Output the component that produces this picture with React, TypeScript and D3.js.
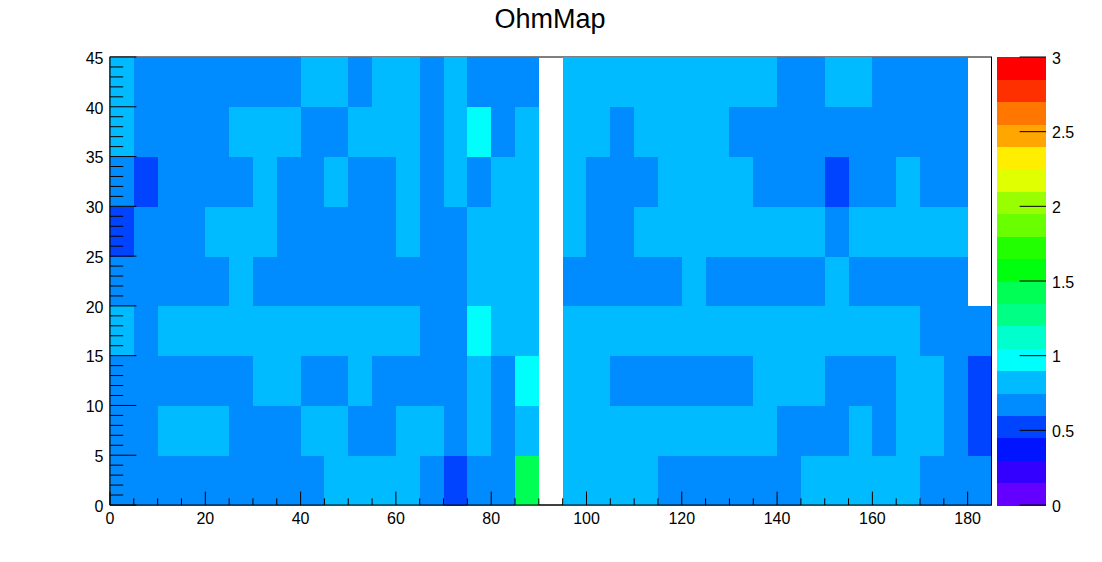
import React from "react";
import * as d3 from "d3";

// ---------- data ----------
const TITLE = "OhmMap";
const X_RANGE = [0, 185];
const Y_RANGE = [0, 45];
const BIN_W = 5;
const BIN_H = 5;
const Z_RANGE = [0, 3];
const N_CONTOURS = 20;

const xTickLabels = [0, 20, 40, 60, 80, 100, 120, 140, 160, 180];
const yTickLabels = [0, 5, 10, 15, 20, 25, 30, 35, 40, 45];
const zTickLabels = [0, 0.5, 1, 1.5, 2, 2.5, 3];

// bin contents, one array per y-bin (y 0-5 ... 40-45), 37 x-bins each; 0 = empty bin
const rowY0 = [0.68, 0.68, 0.68, 0.68, 0.68, 0.68, 0.68, 0.68, 0.68, 0.83, 0.83, 0.83, 0.83, 0.68, 0.52, 0.68, 0.68, 1.42, 0, 0.83, 0.83, 0.83, 0.83, 0.68, 0.68, 0.68, 0.68, 0.68, 0.68, 0.83, 0.83, 0.83, 0.83, 0.83, 0.68, 0.68, 0.68];
const rowY5 = [0.68, 0.68, 0.83, 0.83, 0.83, 0.68, 0.68, 0.68, 0.83, 0.83, 0.68, 0.68, 0.83, 0.83, 0.68, 0.83, 0.68, 0.83, 0, 0.83, 0.83, 0.83, 0.83, 0.83, 0.83, 0.83, 0.83, 0.83, 0.68, 0.68, 0.68, 0.83, 0.68, 0.83, 0.83, 0.68, 0.52];
const rowY10 = [0.68, 0.68, 0.68, 0.68, 0.68, 0.68, 0.83, 0.83, 0.68, 0.68, 0.83, 0.68, 0.68, 0.68, 0.68, 0.83, 0.68, 0.98, 0, 0.83, 0.83, 0.68, 0.68, 0.68, 0.68, 0.68, 0.68, 0.83, 0.83, 0.83, 0.68, 0.68, 0.68, 0.83, 0.83, 0.68, 0.52];
const rowY15 = [0.83, 0.68, 0.83, 0.83, 0.83, 0.83, 0.83, 0.83, 0.83, 0.83, 0.83, 0.83, 0.83, 0.68, 0.68, 0.98, 0.83, 0.83, 0, 0.83, 0.83, 0.83, 0.83, 0.83, 0.83, 0.83, 0.83, 0.83, 0.83, 0.83, 0.83, 0.83, 0.83, 0.83, 0.68, 0.68, 0.68];
const rowY20 = [0.68, 0.68, 0.68, 0.68, 0.68, 0.83, 0.68, 0.68, 0.68, 0.68, 0.68, 0.68, 0.68, 0.68, 0.68, 0.83, 0.83, 0.83, 0, 0.68, 0.68, 0.68, 0.68, 0.68, 0.83, 0.68, 0.68, 0.68, 0.68, 0.68, 0.83, 0.68, 0.68, 0.68, 0.68, 0.68, 0];
const rowY25 = [0.52, 0.68, 0.68, 0.68, 0.83, 0.83, 0.83, 0.68, 0.68, 0.68, 0.68, 0.68, 0.83, 0.68, 0.68, 0.83, 0.83, 0.83, 0, 0.83, 0.68, 0.68, 0.83, 0.83, 0.83, 0.83, 0.83, 0.83, 0.83, 0.83, 0.68, 0.83, 0.83, 0.83, 0.83, 0.83, 0];
const rowY30 = [0.68, 0.52, 0.68, 0.68, 0.68, 0.68, 0.83, 0.68, 0.68, 0.83, 0.68, 0.68, 0.83, 0.68, 0.83, 0.68, 0.83, 0.83, 0, 0.83, 0.68, 0.68, 0.68, 0.83, 0.83, 0.83, 0.83, 0.68, 0.68, 0.68, 0.52, 0.68, 0.68, 0.83, 0.68, 0.68, 0];
const rowY35 = [0.83, 0.68, 0.68, 0.68, 0.68, 0.83, 0.83, 0.83, 0.68, 0.68, 0.83, 0.83, 0.83, 0.68, 0.83, 0.98, 0.68, 0.83, 0, 0.83, 0.83, 0.68, 0.83, 0.83, 0.83, 0.83, 0.68, 0.68, 0.68, 0.68, 0.68, 0.68, 0.68, 0.68, 0.68, 0.68, 0];
const rowY40 = [0.83, 0.68, 0.68, 0.68, 0.68, 0.68, 0.68, 0.68, 0.83, 0.83, 0.68, 0.83, 0.83, 0.68, 0.83, 0.68, 0.68, 0.68, 0, 0.83, 0.83, 0.83, 0.83, 0.83, 0.83, 0.83, 0.83, 0.83, 0.68, 0.68, 0.83, 0.83, 0.68, 0.68, 0.68, 0.68, 0];

const rows = [rowY0, rowY5, rowY10, rowY15, rowY20, rowY25, rowY30, rowY35, rowY40];

// ---------- ROOT "pretty" palette (50 colours, violet -> red) ----------
function paletteColor(idx: number): string {
  if (idx >= 49) return "#ff0000";
  const hue = 280 - (idx + 1) * (280 / 50);
  return d3.hsl(hue, 1, 0.5).formatHex();
}
function contourColor(k: number): string {
  const idx = Math.floor((k + 0.99) * 50 / N_CONTOURS);
  return paletteColor(idx);
}
function valueColor(v: number): string {
  const step = (Z_RANGE[1] - Z_RANGE[0]) / N_CONTOURS;
  let k = Math.floor((v - Z_RANGE[0]) / step);
  k = Math.max(0, Math.min(N_CONTOURS - 1, k));
  return contourColor(k);
}

const FONT = "'Liberation Sans', Arial, Helvetica, sans-serif";

export default function App() {
  const W = 1102, H = 562;
  const left = 110, right = 991.5, top = 57, bottom = 505;
  const x = d3.scaleLinear().domain(X_RANGE).range([left, right]);
  const y = d3.scaleLinear().domain(Y_RANGE).range([bottom, top]);
  const zLeft = 997, zRight = 1046;
  const z = d3.scaleLinear().domain(Z_RANGE).range([bottom, top]);

  const xMajorLen = 13.4, xMinorLen = 6.7;
  const yMajorLen = 26.4, yMinorLen = 13.2;

  const xMinor = d3.range(X_RANGE[0], X_RANGE[1] + 0.001, 5).filter(v => v % 20 !== 0);
  const yMinor = d3.range(Y_RANGE[0], Y_RANGE[1] + 0.001, 1).filter(v => v % 5 !== 0);

  const cells: JSX.Element[] = [];
  rows.forEach((row, j) => {
    row.forEach((v, i) => {
      if (!v) return;
      const x0 = x(X_RANGE[0] + i * BIN_W), x1 = x(X_RANGE[0] + (i + 1) * BIN_W);
      const y0 = y(Y_RANGE[0] + (j + 1) * BIN_H), y1 = y(Y_RANGE[0] + j * BIN_H);
      cells.push(
        <rect key={`c${i}-${j}`} x={x0} y={y0} width={x1 - x0 + 0.5} height={y1 - y0 + 0.5}
          fill={valueColor(v)} shapeRendering="crispEdges" />
      );
    });
  });

  const zStep = (Z_RANGE[1] - Z_RANGE[0]) / N_CONTOURS;
  const paletteRects = d3.range(N_CONTOURS).map(k => {
    const v0 = Z_RANGE[0] + k * zStep, v1 = v0 + zStep;
    return (
      <rect key={`p${k}`} x={zLeft} y={z(v1)} width={zRight - zLeft} height={z(v0) - z(v1) + 0.5}
        fill={contourColor(k)} shapeRendering="crispEdges" />
    );
  });

  return (
    <svg width={W} height={H} style={{ position: "absolute", left: 0, top: 0, background: "#fff" }}
      fontFamily={FONT}>
      <rect x={0} y={0} width={W} height={H} fill="#fff" />
      {/* frame */}
      <rect x={left} y={top} width={right - left} height={bottom - top} fill="none" stroke="#000" strokeWidth={1} />
      {cells}
      <line x1={right} x2={right} y1={top} y2={bottom} stroke="#000" strokeWidth={1} />
      {/* x axis */}
      <line x1={left} x2={right} y1={bottom} y2={bottom} stroke="#000" strokeWidth={1} />
      {xTickLabels.map(v => (
        <g key={`xt${v}`}>
          <line x1={x(v)} x2={x(v)} y1={bottom} y2={bottom - xMajorLen} stroke="#000" strokeWidth={1} />
          <text x={x(v)} y={524} fontSize={16} textAnchor="middle" fill="#000">{v}</text>
        </g>
      ))}
      {xMinor.map(v => (
        <line key={`xm${v}`} x1={x(v)} x2={x(v)} y1={bottom} y2={bottom - xMinorLen} stroke="#000" strokeWidth={1} />
      ))}
      {/* y axis */}
      <line x1={left} x2={left} y1={top} y2={bottom} stroke="#000" strokeWidth={1} />
      {yTickLabels.map(v => (
        <g key={`yt${v}`}>
          <line x1={left} x2={left + yMajorLen} y1={y(v)} y2={y(v)} stroke="#000" strokeWidth={1} />
          <text x={103.5} y={y(v) + 6.8} fontSize={16} textAnchor="end" fill="#000">{v}</text>
        </g>
      ))}
      {yMinor.map(v => (
        <line key={`ym${v}`} x1={left} x2={left + yMinorLen} y1={y(v)} y2={y(v)} stroke="#000" strokeWidth={1} />
      ))}
      {/* palette */}
      {paletteRects}
      {zTickLabels.map(v => (
        <g key={`zt${v}`}>
          <line x1={zRight} x2={zRight - 26.4} y1={z(v)} y2={z(v)} stroke="#000" strokeWidth={1} />
          <text x={1052} y={z(v) + 6.8} fontSize={16} textAnchor="start" fill="#000">{v}</text>
        </g>
      ))}
      {/* title */}
      <text x={550} y={28} fontSize={27} textAnchor="middle" fill="#000">{TITLE}</text>
    </svg>
  );
}
